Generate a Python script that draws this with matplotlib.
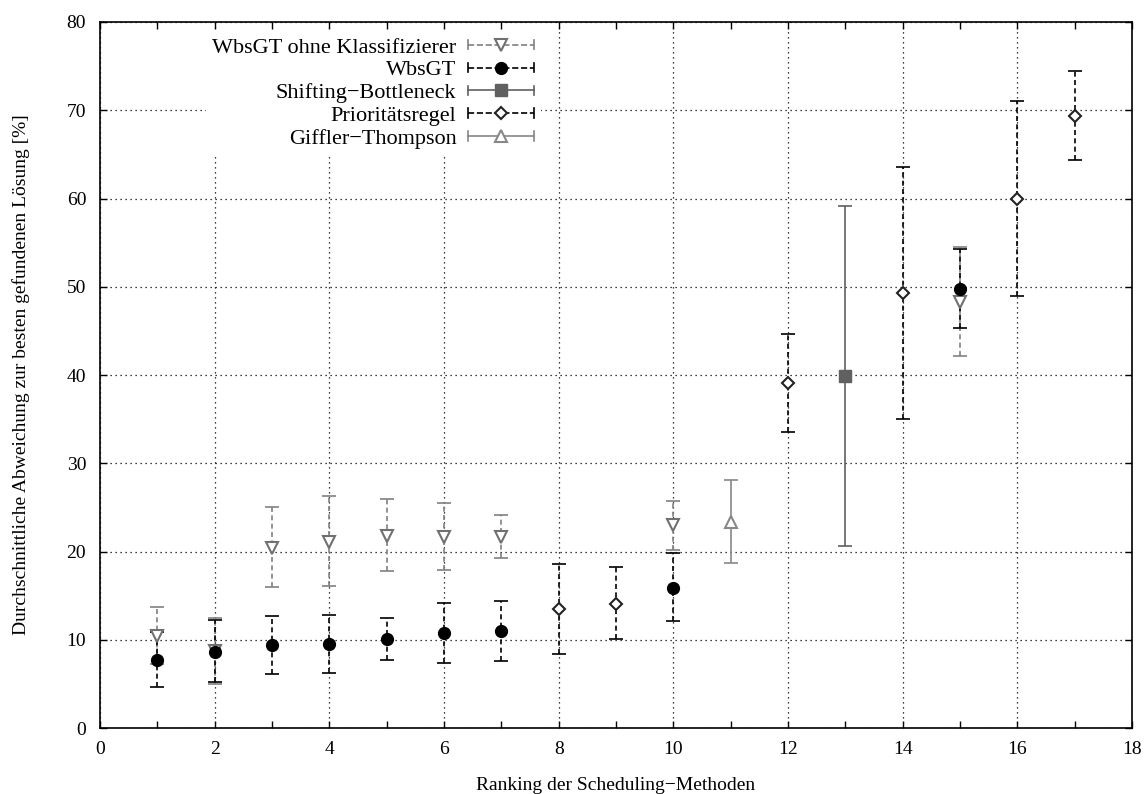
import numpy as np
import matplotlib
matplotlib.use("Agg")
import matplotlib.pyplot as plt
from matplotlib.lines import Line2D
from matplotlib.legend_handler import HandlerBase
from matplotlib.ticker import MultipleLocator

plt.rcParams['font.family'] = ['Liberation Serif', 'DejaVu Serif']

# WbsGT ohne Klassifizierer
ohne_x = [1, 2, 3, 4, 5, 6, 7, 10, 15]
ohne_y = [10.4, 8.7, 20.4, 21.1, 21.8, 21.6, 21.6, 23.0, 48.3]
ohne_lo = [7.3, 5.0, 16.0, 16.1, 17.8, 17.9, 19.3, 20.2, 42.1]
ohne_hi = [13.7, 12.5, 25.0, 26.3, 26.0, 25.5, 24.1, 25.7, 54.5]

# WbsGT
wbs_x = [1, 2, 3, 4, 5, 6, 7, 10, 15]
wbs_y = [7.7, 8.6, 9.4, 9.5, 10.1, 10.8, 11.0, 15.9, 49.7]
wbs_lo = [4.6, 5.2, 6.1, 6.2, 7.7, 7.4, 7.6, 12.1, 45.3]
wbs_hi = [10.9, 12.2, 12.7, 12.8, 12.5, 14.2, 14.4, 19.8, 54.3]

# Shifting-Bottleneck
sb_x = [13]
sb_y = [39.9]
sb_lo = [20.6]
sb_hi = [59.2]

# Prioritaetsregel
pr_x = [8, 9, 12, 14, 16, 17]
pr_y = [13.5, 14.1, 39.1, 49.3, 59.9, 69.4]
pr_lo = [8.4, 10.1, 33.5, 35.0, 48.9, 64.4]
pr_hi = [18.6, 18.3, 44.7, 63.6, 71.0, 74.5]

# Giffler-Thompson
gt_x = [11]
gt_y = [23.4]
gt_lo = [18.7]
gt_hi = [28.1]

labels = ["WbsGT ohne Klassifizierer", "WbsGT", "Shifting\u2212Bottleneck",
          "Prioritätsregel", "Giffler\u2212Thompson"]


class CapHandler(HandlerBase):
    # gnuplot-artiger Legendeneintrag: Linie mit Endstrichen und Marker in der Mitte
    def create_artists(self, legend, h, xdescent, ydescent, width, height, fontsize, trans):
        y = height / 2 - ydescent
        x0, x1 = -xdescent, width - xdescent
        c = h.get_color()
        ls = h.get_linestyle()
        arts = [Line2D([x0, x1], [y, y], color=c, ls=ls, lw=1.2)]
        for xx in (x0, x1):
            arts.append(Line2D([xx, xx], [y - height * 0.3, y + height * 0.3], color=c, lw=1.2))
        arts.append(Line2D([(x0 + x1) / 2], [y], marker=h.get_marker(), ms=h.get_markersize(),
                           mfc=h.get_markerfacecolor(), mec=h.get_markeredgecolor(),
                           mew=h.get_markeredgewidth(), ls='none'))
        for a in arts:
            a.set_transform(trans)
        return arts


def err(y, lo, hi):
    y = np.array(y)
    return [y - np.array(lo), np.array(hi) - y]


fig = plt.figure(figsize=(11.46, 7.94), dpi=100)
ax = fig.add_axes([0.0873, 0.0831, 0.9005, 0.8892])

dash = (0, (3, 2))
styles = [
    (ohne_x, ohne_y, ohne_lo, ohne_hi, dict(color='#808080', marker='v', mfc='white', mec='#707070', ms=8, mew=1.5), dash),
    (wbs_x, wbs_y, wbs_lo, wbs_hi, dict(color='black', marker='o', mfc='black', mec='black', ms=8.5, mew=1), dash),
    (sb_x, sb_y, sb_lo, sb_hi, dict(color='#606060', marker='s', mfc='#606060', mec='#606060', ms=8, mew=1), '-'),
    (pr_x, pr_y, pr_lo, pr_hi, dict(color='black', marker='D', mfc='white', mec='#222222', ms=6.5, mew=1.5), dash),
    (gt_x, gt_y, gt_lo, gt_hi, dict(color='#888888', marker='^', mfc='white', mec='#888888', ms=8, mew=1.5), '-'),
]

handles = []
for x, y, lo, hi, st, ls in styles:
    eb = ax.errorbar(x, y, yerr=err(y, lo, hi), fmt='none', ecolor=st['color'],
                     elinewidth=1.2, capsize=5, capthick=1.2, zorder=3)
    eb[2][0].set_linestyle(ls)
    ax.plot(x, y, ls='none', marker=st['marker'], ms=st['ms'], mfc=st['mfc'],
            mec=st['mec'], mew=st['mew'], zorder=4)
    handles.append(Line2D([], [], color=st['color'], ls=ls, marker=st['marker'], ms=st['ms'],
                          mfc=st['mfc'], mec=st['mec'], mew=st['mew']))

ax.set_xlim(0, 18)
ax.set_ylim(0, 80)
ax.xaxis.set_major_locator(MultipleLocator(2))
ax.xaxis.set_minor_locator(MultipleLocator(1))
ax.yaxis.set_major_locator(MultipleLocator(10))
ax.tick_params(which='both', direction='in', top=True, right=True, labelsize=14, length=5, width=1)
ax.tick_params(axis='x', pad=9)
ax.tick_params(axis='y', pad=10)
ax.grid(True, which='major', color='black', ls=(0, (1, 3)), lw=0.9)
for s in ax.spines.values():
    s.set_linewidth(1.2)

ax.set_xlabel("Ranking der Scheduling\u2212Methoden", fontsize=14, labelpad=14)
ax.set_ylabel("Durchschnittliche Abweichung zur besten gefundenen Lösung [%]", fontsize=14, labelpad=26)

leg = ax.legend(handles, labels, handler_map={Line2D: CapHandler()}, loc='upper right',
                bbox_to_anchor=(0.438, 1.004), markerfirst=False, fontsize=16,
                labelspacing=0.1, handlelength=3.0, handletextpad=0.5,
                frameon=True, fancybox=False, borderpad=0.3)
leg.get_frame().set_edgecolor('none')
leg.get_frame().set_facecolor('white')
leg.get_frame().set_alpha(1)
for t in leg.get_texts():
    t.set_ha('right')
leg._legend_box.align = 'right'

fig.savefig("out.png", dpi=100)
